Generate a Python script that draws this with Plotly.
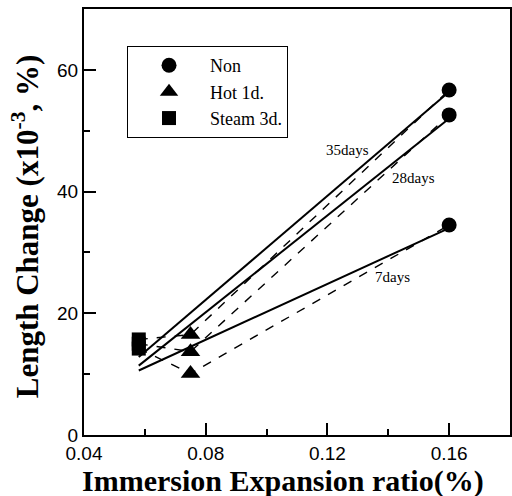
import plotly.graph_objects as go

# ---- data ----
ages = ["35days", "28days", "7days"]
x_steam = 0.058
x_hot = 0.075
x_non = 0.16
steam_vals = [15.7, 15.0, 14.2]
hot_vals = [16.5, 13.7, 10.1]
non_vals = [56.7, 52.6, 34.5]
fit_x = [0.058, 0.16]
fit_35 = [12.8, 56.4]
fit_28 = [11.4, 52.0]
fit_7 = [10.6, 34.0]
label_x = [0.1266, 0.1482, 0.1414]
label_y = [46.8, 42.3, 26.0]
x_ticks = [0.04, 0.08, 0.12, 0.16]
y_ticks = [0, 20, 40, 60]

SERIF = "Liberation Serif"
SANS = "Liberation Sans"

fig = go.Figure()

# dashed connecting lines
for i, a in enumerate(ages):
    fig.add_trace(go.Scatter(
        x=[x_steam, x_hot, x_non], y=[steam_vals[i], hot_vals[i], non_vals[i]],
        mode="lines", line=dict(color="black", width=1.4, dash="dash"),
        showlegend=False, hoverinfo="skip"))

# solid fit lines
for fy in [fit_35, fit_28, fit_7]:
    fig.add_trace(go.Scatter(
        x=fit_x, y=fy, mode="lines", line=dict(color="black", width=2),
        showlegend=False, hoverinfo="skip"))

# markers
fig.add_trace(go.Scatter(x=[x_non] * 3, y=non_vals, mode="markers", name="Non",
                         marker=dict(symbol="circle", size=15, color="black")))
fig.add_trace(go.Scatter(x=[x_hot] * 3, y=hot_vals, mode="markers", name="Hot 1d.",
                         marker=dict(symbol="triangle-up", size=17, color="black")))
fig.add_trace(go.Scatter(x=[x_steam] * 3, y=steam_vals, mode="markers", name="Steam 3d.",
                         marker=dict(symbol="square", size=14, color="black")))

for i, a in enumerate(ages):
    fig.add_annotation(x=label_x[i], y=label_y[i], text=a, showarrow=False,
                       font=dict(family=SERIF, size=15, color="black"))

# axis titles
fig.add_annotation(xref="paper", yref="paper", x=0.467, y=-0.108,
                   text="<b>Immersion Expansion ratio(%)</b>", showarrow=False,
                   xanchor="center", yanchor="middle",
                   font=dict(family=SERIF, size=30, color="black"))
fig.add_annotation(xref="paper", yref="paper", x=-0.1385, y=0.49,
                   text="<b>Length Change (x10<sup>-3</sup>, %)</b>", showarrow=False,
                   textangle=-90, xanchor="center", yanchor="middle",
                   font=dict(family=SERIF, size=31, color="black"))

axis_common = dict(
    showline=True, linecolor="black", linewidth=2, mirror=True,
    ticks="inside", ticklen=12, tickwidth=1.5, tickcolor="black",
    showgrid=False, zeroline=False, automargin=False,
    tickfont=dict(family=SANS, size=19, color="black"),
)

fig.update_xaxes(range=[0.04, 0.18], tickvals=x_ticks,
                 ticktext=[f"{v:.2f}" for v in x_ticks],
                 minor=dict(tickvals=[0.06, 0.10, 0.14], ticks="inside", ticklen=6,
                            tickwidth=1.5, tickcolor="black"),
                 ticklabelstandoff=0,
                 **axis_common)
fig.update_yaxes(range=[0, 70], tickvals=y_ticks,
                 minor=dict(tickvals=[10, 30, 50], ticks="inside", ticklen=6,
                            tickwidth=1.5, tickcolor="black"),
                 **axis_common)

fig.update_layout(
    width=512, height=496,
    margin=dict(l=84, r=2, t=9, b=61),
    plot_bgcolor="white", paper_bgcolor="white",
    legend=dict(x=0.101, y=0.913, xanchor="left", yanchor="top",
                bordercolor="black", borderwidth=1, bgcolor="white",
                font=dict(family=SERIF, size=18, color="black"),
                itemwidth=72),
)

fig.write_html("out.html", config={"displayModeBar": False},
               post_script="document.body.style.margin='0';document.body.style.overflow='hidden';")
